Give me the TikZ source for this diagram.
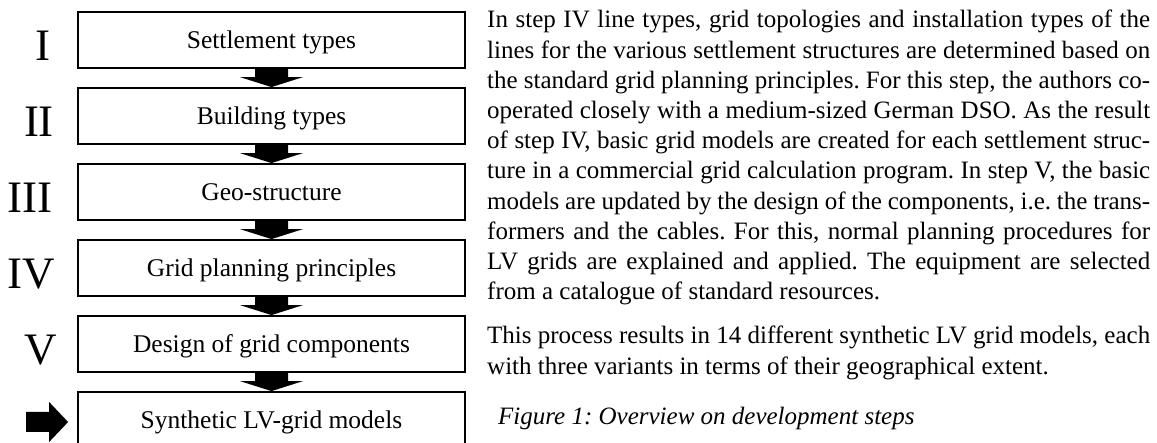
\documentclass[tikz,border=0pt]{standalone}
\usepackage{fontspec}
\setmainfont{Liberation Serif}
\usetikzlibrary{calc}
\frenchspacing
\newcommand\jl[1]{\makebox[663pt][s]{#1}}
\newcommand\stepArrow[2]{\fill ($(#1.south)+(-16.5,0)$) -- ($(#1.south)+(16.5,0)$) -- ($(#2.north)+(16.5,-10)$) -- ($(#2.north)+(31.5,-10)$) -- (#2.north) -- ($(#2.north)+(-31.5,-10)$) -- ($(#2.north)+(-16.5,-10)$) -- cycle;}
\begin{document}
\begin{tikzpicture}[x=1pt,y=-1pt,
  stepbox/.style={draw, line width=1.8pt, fill=white, minimum width=387pt, minimum height=56pt,
    inner sep=0pt, text height=18pt, text depth=0pt, font=\fontsize{25.5}{28}\selectfont},
  roman/.style={font=\fontsize{45}{45}\selectfont, anchor=base, inner sep=0pt},
  body/.style={text width=663pt, align=justify, anchor=base west, inner sep=0pt,
    font=\fontsize{25}{30.2}\selectfont\frenchspacing}]
\useasboundingbox (0,0) rectangle (1157,443);
\node[stepbox] (b1) at (271.5,40) {Settlement types};
\node[stepbox] (b2) at (271.5,116) {Building types};
\node[stepbox] (b3) at (271.5,192) {Geo-structure};
\node[stepbox] (b4) at (271.5,268) {Grid planning principles};
\node[stepbox] (b5) at (271.5,344) {Design of grid components};
\node[stepbox] (b6) at (271.5,420) {Synthetic LV-grid models};
\stepArrow{b1}{b2}
\stepArrow{b2}{b3}
\stepArrow{b3}{b4}
\stepArrow{b4}{b5}
\stepArrow{b5}{b6}
\fill ($(b6.west)+(-51,-8)$) -- ($(b6.west)+(-28,-8)$) -- ($(b6.west)+(-28,-18)$) -- ($(b6.west)+(-9,2)$) -- ($(b6.west)+(-28,22)$) -- ($(b6.west)+(-28,12)$) -- ($(b6.west)+(-51,12)$) -- cycle;
\node[roman] (r1) at (43,61) {I};
\node[roman] (r2) at (39,137) {II};
\node[roman] (r3) at (30,213) {III};
\node[roman] (r4) at (31,289) {IV};
\node[roman] (r5) at (41,365) {V};
\node[body] (p1) at (487,28) {\jl{In step IV line types, grid topologies and installation types of the}\\
\jl{lines for the various settlement structures are determined based on}\\
\jl{the standard grid planning principles. For this step, the authors co-}\\
\jl{operated closely with a medium-sized German DSO. As the result}\\
\jl{of step IV, basic grid models are created for each settlement struc-}\\
\jl{ture in a commercial grid calculation program. In step V, the basic}\\
\jl{models are updated by the design of the components, i.e. the trans-}\\
\jl{formers and the cables. For this, normal planning procedures for}\\
\jl{LV grids are explained and applied. The equipment are selected}\\
from a catalogue of standard resources.};
\node[body] (p2) at (487,344) {\jl{This process results in 14 different synthetic LV grid models, each}\\
with three variants in terms of their geographical extent.};
\node[anchor=base west, inner sep=0pt, font=\fontsize{25}{30}\selectfont\itshape] (cap) at (498,425) {Figure 1: Overview on development steps};
\end{tikzpicture}
\end{document}
